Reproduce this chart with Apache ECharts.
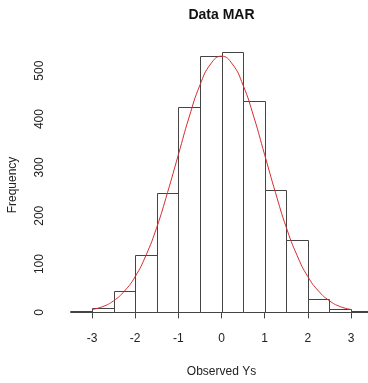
<!DOCTYPE html>
<html><head><meta charset="utf-8">
<script src="https://cdn.jsdelivr.net/npm/echarts@6/dist/echarts.min.js"></script>
<style>html,body{margin:0;padding:0;background:#fff}#c{width:368px;height:383px}</style>
</head><body><div id="c"></div>
<script>
const binStarts = [-3.5,-3,-2.5,-2,-1.5,-1,-0.5,0,0.5,1,1.5,2,2.5,3];
const binWidth = 0.5;
const counts = [3,10,45,118,248,424,530,538,438,254,149,27,7,3];
const curveX = [-3,-2.75,-2.5,-2.25,-2,-1.75,-1.5,-1.25,-1,-0.75,-0.5,-0.25,0,0.25,0.5,0.75,1,1.25,1.5,1.75,2,2.25,2.5,2.75,3];
const curveY = [6,12,24,44,74,118,176,248,326,404,470,514,530,514,470,404,326,248,176,118,74,44,24,12,6];
const xTicks = [-3,-2,-1,0,1,2,3];
const yTicks = [0,100,200,300,400,500];

const font = '"Liberation Sans", Arial, sans-serif';
const txt = '#222';
const chart = echarts.init(document.getElementById('c'), null, {renderer:'canvas'});
chart.setOption({
  animation:false,
  backgroundColor:'#fff',
  graphic:[
    {type:'text', x:221.5, y:15, style:{text:'Data MAR', font:'bold 14px '+font, fill:'#111', textAlign:'center', textVerticalAlign:'middle'}},
    {type:'text', x:13, y:185, rotation:Math.PI/2, style:{text:'Frequency', font:'12px '+font, fill:txt, textAlign:'center', textVerticalAlign:'middle'}}
  ],
  grid:{left:92, width:259, top:70.7, height:247},
  xAxis:{type:'value', min:xTicks[0], max:xTicks[xTicks.length-1], interval:1, offset:11.6,
    axisLine:{show:true, lineStyle:{color:'#444', width:1}},
    axisTick:{show:true, length:6, lineStyle:{color:'#444'}},
    axisLabel:{margin:9, fontSize:12, fontFamily:font, color:txt},
    splitLine:{show:false},
    name:'Observed Ys', nameLocation:'middle', nameGap:42, nameTextStyle:{fontSize:12, fontFamily:font, color:txt}
  },
  yAxis:{type:'value', min:yTicks[0], max:yTicks[yTicks.length-1], interval:100, offset:33.3,
    axisLine:{show:true, lineStyle:{color:'#444', width:1}},
    axisTick:{show:true, length:7, lineStyle:{color:'#444'}},
    axisLabel:{rotate:90, margin:13, fontSize:12, fontFamily:font, color:txt},
    splitLine:{show:false}
  },
  series:[
    {type:'custom', clip:false,
     data: binStarts.map((s,i)=>[s, s+binWidth, counts[i]]),
     renderItem:function(params, api){
       const p0 = api.coord([api.value(0), api.value(2)]);
       const p1 = api.coord([api.value(1), 0]);
       return {type:'rect', shape:{x:Math.round(p0[0])+0.5, y:Math.round(p0[1])+0.5, width:Math.round(p1[0])-Math.round(p0[0]), height:Math.round(p1[1])-Math.round(p0[1])},
         style:{fill:'#fff', stroke:'#444', lineWidth:1}};
     }
    },
    {type:'line', clip:false, data: curveX.map((x,i)=>[x, curveY[i]]), smooth:true, symbol:'none',
     lineStyle:{color:'#d92b2b', width:1}, z:5}
  ]
});
</script></body></html>
